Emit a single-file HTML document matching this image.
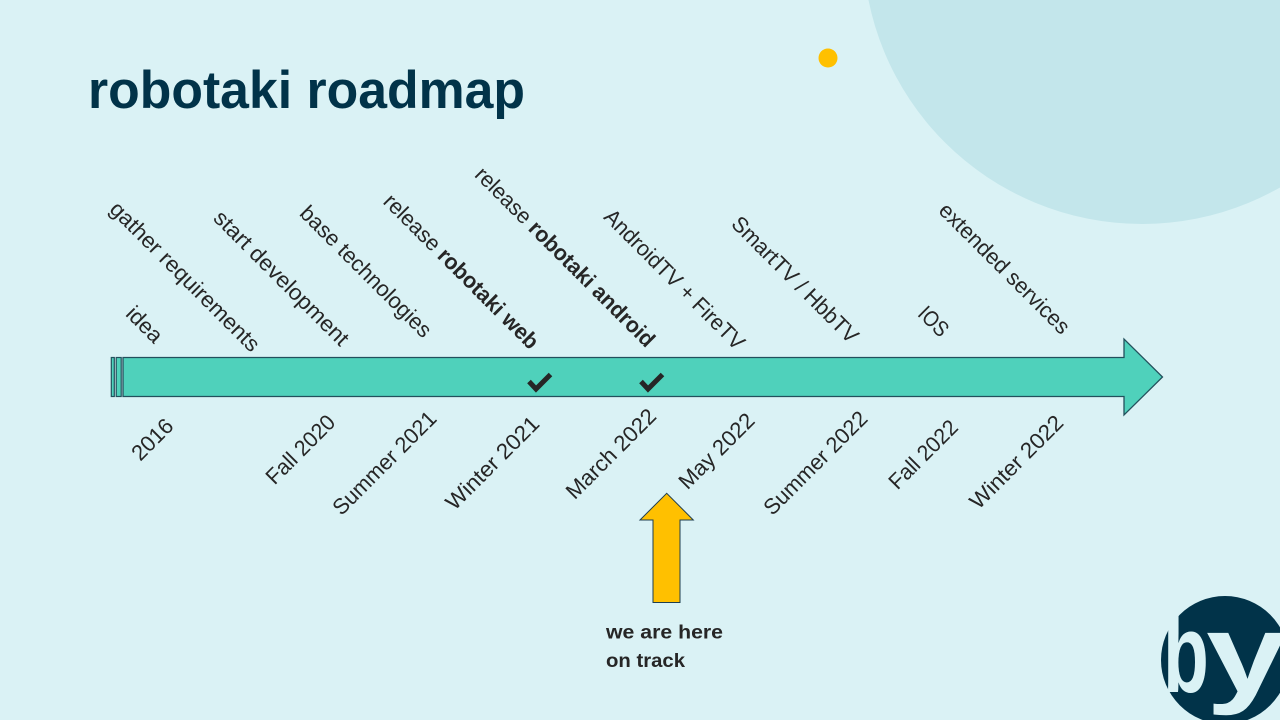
<!DOCTYPE html>
<html>
<head>
<meta charset="utf-8">
<style>
  html, body { margin: 0; padding: 0; width: 1280px; height: 720px; overflow: hidden; background: #daf2f5; }
  svg { display: block; }
  .lbl { font-family: "Liberation Sans", "DejaVu Sans", sans-serif; font-size: 22px; fill: #262626; }
  .b { font-weight: bold; }
</style>
</head>
<body>
<svg width="1280" height="720" viewBox="0 0 1280 720" xmlns="http://www.w3.org/2000/svg">
  <rect x="0" y="0" width="1280" height="720" fill="#daf2f5"/>
  <!-- decorative big circle -->
  <circle cx="1142" cy="-55" r="279" fill="#c3e6eb"/>
  <!-- yellow dot -->
  <circle cx="828" cy="58" r="9.5" fill="#ffc000"/>

  <!-- title -->
  <text x="88" y="108" font-family="Liberation Sans, sans-serif" font-weight="bold" font-size="53" fill="#013349" textLength="437" lengthAdjust="spacingAndGlyphs">robotaki roadmap</text>

  <!-- main arrow -->
  <rect x="111.3" y="357.5" width="3" height="39" fill="#4fd1bb" stroke="#22505c" stroke-width="1.2"/>
  <rect x="116.2" y="357.5" width="5" height="39" fill="#4fd1bb" stroke="#22505c" stroke-width="1.2"/>
  <path d="M123,357.5 H1124 V339 L1162.5,377 L1124,415 V396.5 H123 Z" fill="#4fd1bb" stroke="#22505c" stroke-width="1.3"/>

  <!-- check marks -->
  <polyline points="529,381.5 536,389 550.5,374.5" fill="none" stroke="#262626" stroke-width="5"/>
  <polyline points="641,381.5 648,389 662.5,374.5" fill="none" stroke="#262626" stroke-width="5"/>

  <!-- upper labels (rotated 45deg) -->
  <text class="lbl" x="145" y="332" text-anchor="middle" transform="rotate(45 145 324)" textLength="41.5" lengthAdjust="spacingAndGlyphs">idea</text>
  <text class="lbl" x="184" y="283.5" text-anchor="middle" transform="rotate(45 184 277.5)" textLength="201.7" lengthAdjust="spacingAndGlyphs">gather requirements</text>
  <text class="lbl" x="280.5" y="285" text-anchor="middle" transform="rotate(45 280.5 279)" textLength="181" lengthAdjust="spacingAndGlyphs">start development</text>
  <text class="lbl" x="365" y="278.5" text-anchor="middle" transform="rotate(45 365 272.5)" textLength="176" lengthAdjust="spacingAndGlyphs">base technologies</text>
  <text class="lbl" x="461.7" y="279" text-anchor="middle" transform="rotate(45 461.7 271)" textLength="209" lengthAdjust="spacingAndGlyphs">release <tspan class="b">robotaki web</tspan></text>
  <text class="lbl" x="565.5" y="264.5" text-anchor="middle" transform="rotate(45 565.5 256.5)" textLength="244" lengthAdjust="spacingAndGlyphs">release <tspan class="b">robotaki android</tspan></text>
  <text class="lbl" x="675" y="287" text-anchor="middle" transform="rotate(45 675 279)" textLength="188.4" lengthAdjust="spacingAndGlyphs">AndroidTV + FireTV</text>
  <text class="lbl" x="795" y="287" text-anchor="middle" transform="rotate(45 795 279.7)" textLength="169" lengthAdjust="spacingAndGlyphs">SmartTV / HbbTV</text>
  <text class="lbl" x="934" y="329" text-anchor="middle" transform="rotate(45 934 321)" textLength="33" lengthAdjust="spacingAndGlyphs">IOS</text>
  <text class="lbl" x="1005" y="276" text-anchor="middle" transform="rotate(45 1005 268)" textLength="175" lengthAdjust="spacingAndGlyphs">extended services</text>

  <!-- lower labels (rotated -45deg) -->
  <text class="lbl" x="152" y="447" text-anchor="middle" transform="rotate(-45 152 439)" textLength="48.7" lengthAdjust="spacingAndGlyphs">2016</text>
  <text class="lbl" x="300" y="457" text-anchor="middle" transform="rotate(-45 300 449)" textLength="87.6" lengthAdjust="spacingAndGlyphs">Fall 2020</text>
  <text class="lbl" x="384" y="470.5" text-anchor="middle" transform="rotate(-45 384 462.5)" textLength="136.4" lengthAdjust="spacingAndGlyphs">Summer 2021</text>
  <text class="lbl" x="492" y="470.5" text-anchor="middle" transform="rotate(-45 492 462.5)" textLength="121.9" lengthAdjust="spacingAndGlyphs">Winter 2021</text>
  <text class="lbl" x="610.5" y="461.3" text-anchor="middle" transform="rotate(-45 610.5 453.3)" textLength="117.2" lengthAdjust="spacingAndGlyphs">March 2022</text>
  <text class="lbl" x="717.5" y="458" text-anchor="middle" transform="rotate(-45 717.5 452)" textLength="97" lengthAdjust="spacingAndGlyphs">May 2022</text>
  <text class="lbl" x="815" y="470.5" text-anchor="middle" transform="rotate(-45 815 462.5)" textLength="136.4" lengthAdjust="spacingAndGlyphs">Summer 2022</text>
  <text class="lbl" x="922.8" y="462" text-anchor="middle" transform="rotate(-45 922.8 454)" textLength="87.6" lengthAdjust="spacingAndGlyphs">Fall 2022</text>
  <text class="lbl" x="1016" y="469.5" text-anchor="middle" transform="rotate(-45 1016 461.5)" textLength="121.9" lengthAdjust="spacingAndGlyphs">Winter 2022</text>

  <!-- yellow "we are here" arrow -->
  <path d="M653,602.5 V520 H640 L666.7,493.3 L693.3,520 H680 V602.5 Z" fill="#ffc000" stroke="#1f3e50" stroke-width="1"/>

  <text x="606" y="638.5" font-family="Liberation Sans, sans-serif" font-weight="bold" font-size="19" fill="#262626" textLength="117" lengthAdjust="spacingAndGlyphs">we are here</text>
  <text x="606" y="667" font-family="Liberation Sans, sans-serif" font-weight="bold" font-size="19" fill="#262626" textLength="79" lengthAdjust="spacingAndGlyphs">on track</text>

  <!-- logo -->
  <circle cx="1225" cy="660" r="64" fill="#013349"/>
  <text font-family="Liberation Sans, sans-serif" font-weight="bold" font-size="112" fill="#daf2f5" transform="translate(1163,692) scale(0.67,1)">b</text>
  <text font-family="Liberation Sans, sans-serif" font-weight="bold" font-size="112" fill="#daf2f5" transform="translate(1206,692) scale(1.3,1)">y</text>
</svg>
</body>
</html>
